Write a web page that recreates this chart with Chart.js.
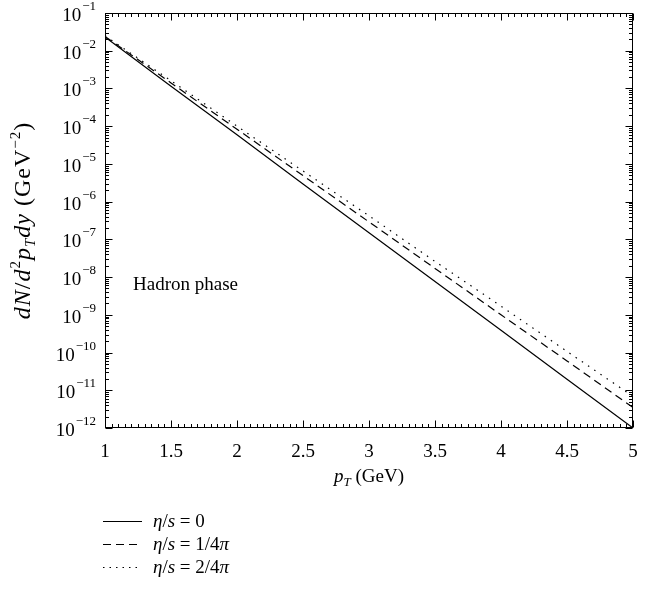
<!DOCTYPE html>
<html>
<head>
<meta charset="utf-8">
<script src="https://cdn.jsdelivr.net/npm/chart.js@4.4.1/dist/chart.umd.min.js"></script>
<style>
  html, body { margin: 0; padding: 0; background: #fff; }
  #wrap { width: 655px; height: 591px; }
</style>
</head>
<body>
<div id="wrap"><canvas id="c" width="655" height="591"></canvas></div>
<script>
// data (log10 values roughly linear in pT)
var pT = [1, 1.5, 2, 2.5, 3, 3.5, 4, 4.5, 5];
var etaS0 = [2.3e-2, 1.15e-3, 5.9e-5, 2.95e-6, 1.5e-7, 7.6e-9, 3.9e-10, 1.95e-11, 1.0e-12];
var etaS1 = [2.4e-2, 1.4e-3, 8.3e-5, 4.9e-6, 2.9e-7, 1.7e-8, 1.0e-9, 6.0e-11, 3.5e-12];
var etaS2 = [2.5e-2, 1.6e-3, 1.0e-4, 6.5e-6, 4.2e-7, 2.6e-8, 1.7e-9, 1.07e-10, 6.9e-12];
var xTickLabels = ['1', '1.5', '2', '2.5', '3', '3.5', '4', '4.5', '5'];
var yExps = [-1, -2, -3, -4, -5, -6, -7, -8, -9, -10, -11, -12];
var legendNums = ['0', '1/4', '2/4'];

var SERIF = '"Liberation Serif", "DejaVu Serif", serif';

function pts(ys) {
    return pT.map(function (x, i) { return { x: x, y: ys[i] }; });
}

// draw a list of [text, font, dy] runs starting at x
function runs(ctx, list, x, y) {
    list.forEach(function (r) {
        ctx.font = r[1];
        ctx.fillText(r[0], x, y + (r[2] || 0));
        x += ctx.measureText(r[0]).width;
    });
    return x;
}
function runsWidth(ctx, list) {
    var w = 0;
    list.forEach(function (r) { ctx.font = r[1]; w += ctx.measureText(r[0]).width; });
    return w;
}

var decor = {
    id: 'decor',
    afterDraw: function (chart) {
        var ctx = chart.ctx;
        var a = chart.chartArea;
        var xs = chart.scales.x, ys = chart.scales.y;
        ctx.save();
        ctx.strokeStyle = '#000';
        ctx.fillStyle = '#000';
        ctx.lineWidth = 1;
        var L = Math.round(a.left) + 0.5, R = Math.round(a.right) - 0.5;
        var T = Math.round(a.top) + 0.5, B = Math.round(a.bottom) - 0.5;
        ctx.strokeRect(L, T, R - L, B - T);

        // inward ticks, x: every 0.05, major every 0.5
        ctx.beginPath();
        for (var i = 0; i <= 80; i++) {
            var v = 1 + i * 0.05;
            var px = Math.round(xs.getPixelForValue(v)) + 0.5;
            var len = (i % 10 === 0) ? 7 : 3.5;
            ctx.moveTo(px, B); ctx.lineTo(px, B - len);
            ctx.moveTo(px, T); ctx.lineTo(px, T + len);
        }
        // y: log ticks
        for (var e = -12; e <= -1; e++) {
            for (var m = 1; m <= 9; m++) {
                if (e === -1 && m > 1) break;
                var py = Math.round(ys.getPixelForValue(m * Math.pow(10, e))) + 0.5;
                var l2 = (m === 1) ? 7 : 3.5;
                ctx.moveTo(L, py); ctx.lineTo(L + l2, py);
                ctx.moveTo(R, py); ctx.lineTo(R - l2, py);
            }
        }
        ctx.stroke();

        var it = 'italic 19px ' + SERIF, rm = '19px ' + SERIF, sub = 'italic 13px ' + SERIF, sup = '13px ' + SERIF;

        // x tick labels
        ctx.textBaseline = 'alphabetic';
        ctx.textAlign = 'center';
        ctx.font = rm;
        pT.forEach(function (v, k) {
            ctx.fillText(xTickLabels[k], xs.getPixelForValue(v), 457);
        });

        // y tick labels 10^n
        ctx.textAlign = 'left';
        yExps.forEach(function (e) {
            var py = ys.getPixelForValue(Math.pow(10, e));
            ctx.font = sup;
            var ex = '\u2212' + Math.abs(e);
            var ew = ctx.measureText(ex).width;
            ctx.font = rm;
            var bw = ctx.measureText('10').width;
            var x0 = 95 - ew - bw;
            ctx.fillText('10', x0, py + 8);
            ctx.font = sup;
            ctx.fillText(ex, x0 + bw + 1, py - 3);
        });

        // x title
        var cx = (a.left + a.right) / 2;
        var parts = [['p', it], ['T', sub, 4], [' (GeV)', rm]];
        runs(ctx, parts, cx - runsWidth(ctx, parts) / 2, 482);

        // y title (rotated), a bit larger than the other text like the original
        ctx.save();
        ctx.translate(30, (a.top + a.bottom) / 2);
        ctx.rotate(-Math.PI / 2);
        ctx.letterSpacing = '1px';
        var yit = 'italic 24px ' + SERIF, yrm = '24px ' + SERIF, ysub = 'italic 15px ' + SERIF, ysup = '15px ' + SERIF;
        var yp = [['dN', yit], ['/', yrm], ['d', yit], ['2', ysup, -10], ['p', yit], ['T', ysub, 5],
                  ['dy', yit], [' (GeV', yrm], ['\u22122', ysup, -10], [')', yrm]];
        runs(ctx, yp, -runsWidth(ctx, yp) / 2, 0);
        ctx.restore();

        // annotation
        ctx.font = rm;
        ctx.fillText('Hadron phase', 133, 290);

        // legend
        chart.data.datasets.forEach(function (ds, k) {
            var ly = 521 + k * 23;
            ctx.save();
            ctx.strokeStyle = ds.borderColor;
            ctx.lineWidth = ds.borderWidth;
            ctx.setLineDash(ds.legendDash || []);
            ctx.beginPath();
            ctx.moveTo(103, ly + 0.5); ctx.lineTo(142, ly + 0.5);
            ctx.stroke();
            ctx.restore();
            var lr = [['\u03b7', it], ['/', rm], ['s', it], [' = ' + legendNums[k], rm]];
            if (k > 0) lr.push(['\u03c0', it]);
            runs(ctx, lr, 153, ly + 6);
        });
        ctx.restore();
    }
};

var ctx = document.getElementById('c').getContext('2d');
new Chart(ctx, {
    type: 'line',
    data: {
        datasets: [{
            label: '\u03b7/s = 0',
            data: pts(etaS0),
            borderColor: '#000',
            borderWidth: 1.2,
            pointRadius: 0
        }, {
            label: '\u03b7/s = 1/4\u03c0',
            data: pts(etaS1),
            borderColor: '#000',
            borderWidth: 1.2,
            borderDash: [8, 5],
            legendDash: [8, 5],
            pointRadius: 0
        }, {
            label: '\u03b7/s = 2/4\u03c0',
            data: pts(etaS2),
            borderColor: '#000',
            borderWidth: 1.2,
            borderDash: [1.5, 6],
            legendDash: [1.5, 5],
            pointRadius: 0
        }]
    },
    options: {
        responsive: false,
        animation: false,
        layout: { padding: { left: 105, top: 13, right: 22, bottom: 163 } },
        plugins: { legend: { display: false }, tooltip: { enabled: false } },
        scales: {
            x: {
                type: 'linear',
                min: 1,
                max: 5,
                grid: { display: false },
                border: { display: false },
                ticks: { display: false },
                afterFit: function (s) { s.height = 0; }
            },
            y: {
                type: 'logarithmic',
                min: 1e-12,
                max: 1e-1,
                grid: { display: false },
                border: { display: false },
                ticks: { display: false },
                afterFit: function (s) { s.width = 0; }
            }
        }
    },
    plugins: [decor]
});
</script>
</body>
</html>
